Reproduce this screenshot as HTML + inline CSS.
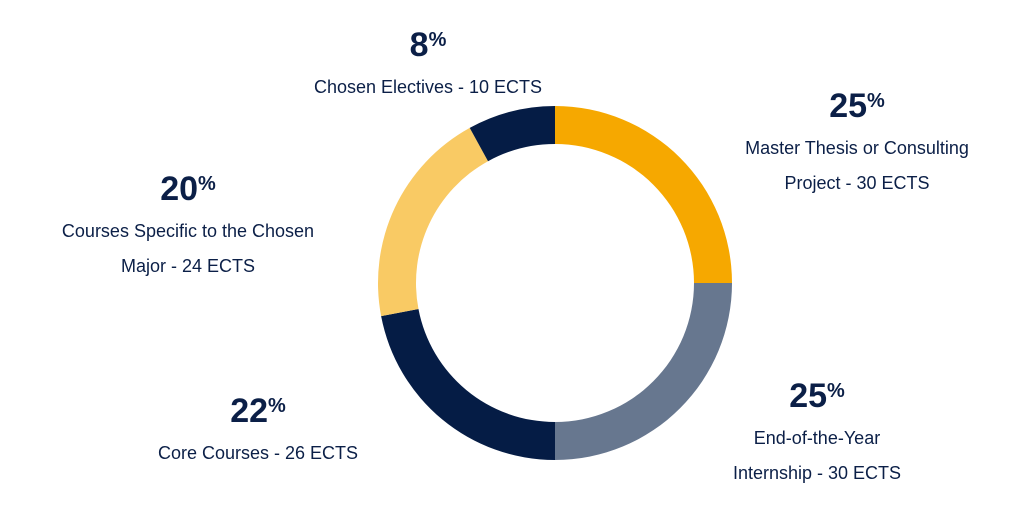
<!DOCTYPE html>
<html><head><meta charset="utf-8"><style>
body{margin:0;background:#fff;}
svg text{font-family:"Liberation Sans",sans-serif;fill:#0b1f47;}
.pct{font-size:34px;font-weight:bold;}
.sup{font-size:20px;}
.lab{font-size:18px;}
</style></head><body>
<svg width="1024" height="507" viewBox="0 0 1024 507">
<g id="slices"></g>
<g id="labels"></g>
</svg>
<script>
const categories=["Master Thesis or Consulting Project - 30 ECTS","End-of-the-Year Internship - 30 ECTS","Core Courses - 26 ECTS","Courses Specific to the Chosen Major - 24 ECTS","Chosen Electives - 10 ECTS"];
const values=[25,25,22,20,8];
const colors=["#f6a800","#67778f","#051c45","#f9ca64","#051c45"];
const labelLines=[["Master Thesis or Consulting","Project - 30 ECTS"],["End-of-the-Year","Internship - 30 ECTS"],["Core Courses - 26 ECTS"],["Courses Specific to the Chosen","Major - 24 ECTS"],["Chosen Electives - 10 ECTS"]];
const labelPos=[[857,117],[817,407],[258,422],[188,200],[428,56]];
const NS="http://www.w3.org/2000/svg";
const cx=555,cy=283,R=177,r=139;
const total=values.reduce((a,b)=>a+b,0);
let a0=0;
const g=document.getElementById('slices');
function pt(rad,a){return [cx+rad*Math.sin(a),cy-rad*Math.cos(a)];}
values.forEach((v,i)=>{
 const a1=a0+v/total*2*Math.PI;
 const large=(a1-a0)>Math.PI?1:0;
 const [x1,y1]=pt(R,a0),[x2,y2]=pt(R,a1),[x3,y3]=pt(r,a1),[x4,y4]=pt(r,a0);
 const p=document.createElementNS(NS,'path');
 p.setAttribute('d',`M${x1},${y1}A${R},${R} 0 ${large} 1 ${x2},${y2}L${x3},${y3}A${r},${r} 0 ${large} 0 ${x4},${y4}Z`);
 p.setAttribute('fill',colors[i]);
 
 
 g.appendChild(p);
 a0=a1;
});
const lg=document.getElementById('labels');
values.forEach((v,i)=>{
 const [x,y]=labelPos[i];
 const t=document.createElementNS(NS,'text');
 t.setAttribute('x',x);t.setAttribute('y',y);t.setAttribute('text-anchor','middle');t.setAttribute('class','pct');
 
 
 t.innerHTML=v+'<tspan class="sup" dy="-10">%</tspan>';
 lg.appendChild(t);
 labelLines[i].forEach((ln,j)=>{
  const s=document.createElementNS(NS,'text');
  s.setAttribute('x',x);s.setAttribute('y',y+37+j*35);s.setAttribute('text-anchor','middle');s.setAttribute('class','lab');
  
  
  s.textContent=ln;
  lg.appendChild(s);
 });
});
</script>
</body></html>
